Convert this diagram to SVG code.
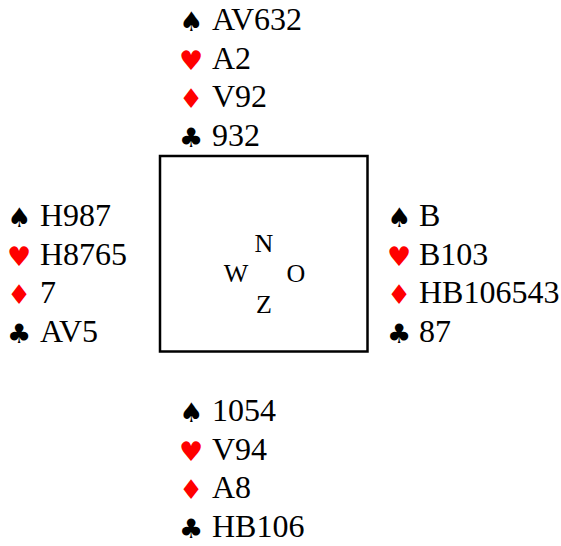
<svg xmlns="http://www.w3.org/2000/svg" width="561" height="546" viewBox="0 0 561 546">
<style>
.t{font-family:"Liberation Serif","Times New Roman",serif;font-size:32px;fill:#000}
.s{font-family:"DejaVu Sans",sans-serif;font-size:27px;fill:#000}
.r{fill:#ff0000}
.c{font-family:"Liberation Serif","Times New Roman",serif;font-size:26px;fill:#000;text-anchor:middle}
</style>
<rect width="561" height="546" fill="#fff"/>
<g id="table">
<rect x="160" y="156" width="207.5" height="195.5" fill="none" stroke="#000" stroke-width="2.5"/>
<text class="c" x="264" y="251.5">N</text>
<text class="c" x="236" y="281.5">W</text>
<text class="c" x="296" y="281.5">O</text>
<text class="c" x="264" y="313">Z</text>
</g>
<g id="north">
<text class="s" x="179" y="31">♠</text><text class="t" x="212" y="30">AV632</text>
<text class="s r" x="179" y="69.5">♥</text><text class="t" x="212" y="68.5">A2</text>
<text class="s r" x="179" y="108">♦</text><text class="t" x="212" y="107">V92</text>
<text class="s" x="179" y="146.5">♣</text><text class="t" x="212" y="145.5">932</text>
</g>
<g id="west">
<text class="s" x="7" y="227">♠</text><text class="t" x="40" y="226">H987</text>
<text class="s r" x="7" y="265.5">♥</text><text class="t" x="40" y="264.5">H8765</text>
<text class="s r" x="7" y="304">♦</text><text class="t" x="40" y="303">7</text>
<text class="s" x="7" y="342.5">♣</text><text class="t" x="40" y="341.5">AV5</text>
</g>
<g id="east">
<text class="s" x="387" y="227">♠</text><text class="t" x="419" y="226">B</text>
<text class="s r" x="387" y="265.5">♥</text><text class="t" x="419" y="264.5">B103</text>
<text class="s r" x="387" y="304">♦</text><text class="t" x="419" y="303">HB106543</text>
<text class="s" x="387" y="342.5">♣</text><text class="t" x="419" y="341.5">87</text>
</g>
<g id="south">
<text class="s" x="179" y="422">♠</text><text class="t" x="212" y="421">1054</text>
<text class="s r" x="179" y="460.5">♥</text><text class="t" x="212" y="459.5">V94</text>
<text class="s r" x="179" y="499">♦</text><text class="t" x="212" y="498">A8</text>
<text class="s" x="179" y="537.5">♣</text><text class="t" x="212" y="536.5">HB106</text>
</g>
</svg>
